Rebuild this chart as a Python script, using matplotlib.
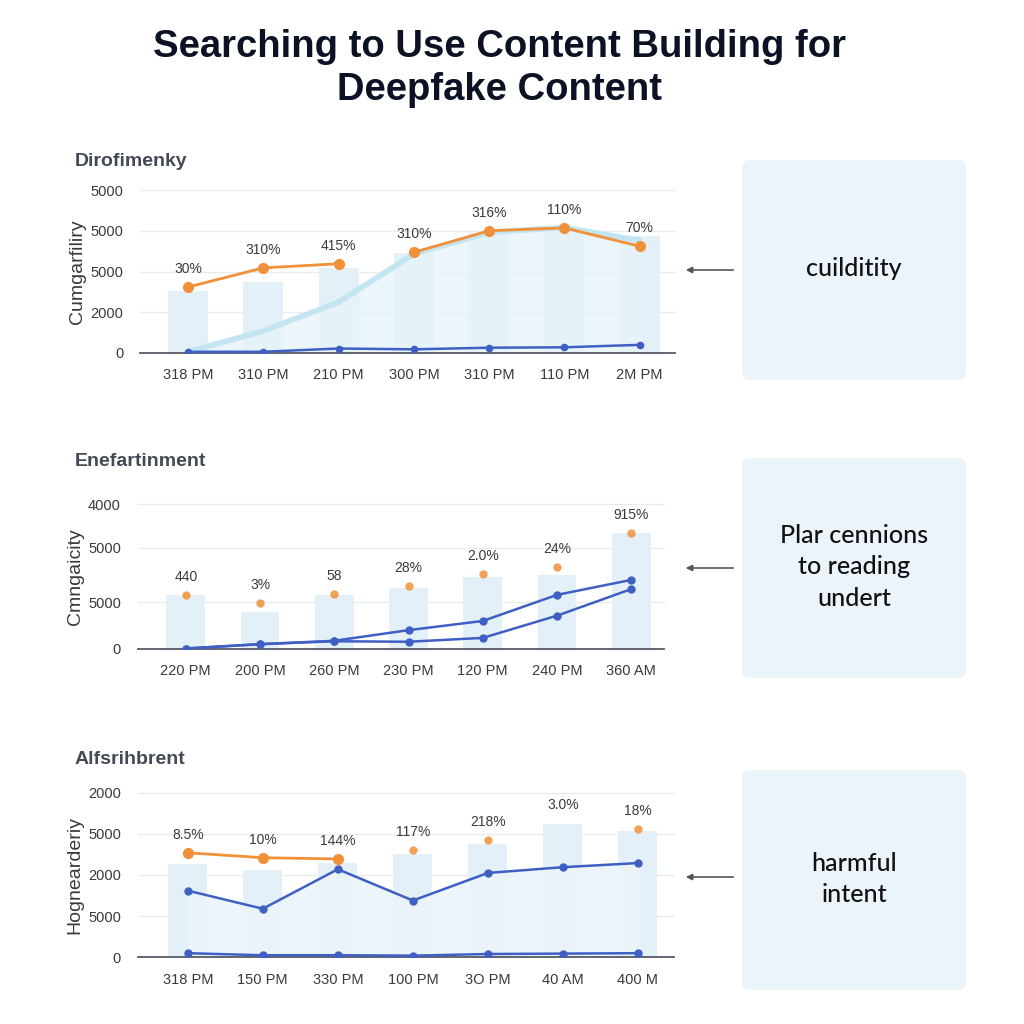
import numpy as np
import matplotlib
matplotlib.use("Agg")
from matplotlib import pyplot as plt
from matplotlib.patches import FancyBboxPatch

plt.rcParams["font.family"] = ["Liberation Sans", "DejaVu Sans"]

# ---- panel 1 : Dirofimenky ----
times1 = ["318 PM", "310 PM", "210 PM", "300 PM", "310 PM", "110 PM", "2M PM"]
bars1 = [1.52, 1.75, 2.08, 2.45, 2.95, 3.05, 2.88]
curve1 = [0.03, 0.54, 1.25, 2.43, 2.96, 3.08, 2.76]
orange1 = [1.62, 2.09, 2.19, 2.47, 3.00, 3.07, 2.62]
blue1 = [0.03, 0.03, 0.11, 0.09, 0.13, 0.14, 0.20]
pct1 = ["30%", "310%", "415%", "310%", "316%", "110%", "70%"]
yticks1 = ["0", "2000", "5000", "5000", "5000"]

# ---- panel 2 : Enefartinment ----
times2 = ["220 PM", "200 PM", "260 PM", "230 PM", "120 PM", "240 PM", "360 AM"]
bars2 = [1.11, 0.76, 1.12, 1.27, 1.48, 1.53, 2.40]
orange2 = [1.11, 0.95, 1.13, 1.30, 1.55, 1.70, 2.40]
blue2a = [0.01, 0.10, 0.17, 0.39, 0.58, 1.12, 1.43]
blue2b = [0.01, 0.10, 0.16, 0.15, 0.23, 0.69, 1.24]
pct2 = ["440", "3%", "58", "28%", "2.0%", "24%", "915%"]
yticks2 = ["0", "5000", "5000", "4000"]

# ---- panel 3 : Alfsrihbrent ----
times3 = ["318 PM", "150 PM", "330 PM", "100 PM", "3O PM", "40 AM", "400 M"]
bars3 = [2.26, 2.13, 2.30, 2.52, 2.75, 3.25, 3.07]
orange3 = [2.54, 2.42, 2.39, 2.60, 2.85, np.nan, 3.11]
blue3a = [1.62, 1.18, 2.14, 1.38, 2.05, 2.19, 2.29]
blue3b = [0.10, 0.05, 0.05, 0.04, 0.08, 0.09, 0.10]
pct3 = ["8.5%", "10%", "144%", "117%", "218%", "3.0%", "18%"]
yticks3 = ["0", "5000", "2000", "5000", "2000"]

box_texts = ["cuilditity", "Plar cennions\nto reading\nundert", "harmful\nintent"]

ORANGE = "#f0913a"
BLUE = "#3f5fc4"
BAR = "#e3f0f7"
GRID = "#e9ecef"
TXT = "#3a3a3a"

fig = plt.figure(figsize=(10.24, 10.24), dpi=100)
fig.patch.set_facecolor("white")

fig.text(0.488, 0.933, "Searching to Use Content Building for\nDeepfake Content",
         ha="center", va="center", fontsize=27.5, fontweight="bold",
         color="#0b1224", linespacing=1.25)


def setup(ax, times, yt_pos, yt_lab, ylab, title, title_y, xlim, ytop):
    ax.set_xlim(*xlim)
    ax.set_ylim(0, ytop)
    for s in ["top", "right", "left"]:
        ax.spines[s].set_visible(False)
    ax.spines["bottom"].set_color("#555a66")
    ax.spines["bottom"].set_linewidth(1.3)
    for y in yt_pos[1:]:
        ax.axhline(y, color=GRID, lw=1.0, zorder=0, clip_on=False)
    ax.set_yticks(yt_pos)
    ax.set_yticklabels(yt_lab)
    ax.set_xticks(range(len(times)))
    ax.set_xticklabels(times)
    ax.tick_params(axis="both", length=0, labelsize=10.5, labelcolor=TXT)
    ax.tick_params(axis="y", pad=12)
    ax.tick_params(axis="x", pad=11)
    ax.set_ylabel(ylab, fontsize=14, color=TXT, labelpad=3)
    ax.set_facecolor("none")
    fig.text(75 / 1024, 1 - title_y / 1024, title, fontsize=14,
             fontweight="bold", color="#444a55", ha="left", va="center")


def labels(ax, xs, ys, texts):
    for x, y, t in zip(xs, ys, texts):
        ax.annotate(t, (x, y), xytext=(0, 8), textcoords="offset points",
                    ha="center", va="bottom", fontsize=10, color=TXT)


x = np.arange(7)

# panel 1
ax1 = fig.add_axes([140 / 1024, 1 - 353 / 1024, 535 / 1024, 163 / 1024])
setup(ax1, times1, [0, 1, 2, 3, 4], yticks1, "Cumgarfiliry", "Dirofimenky", 162,
      (-0.64, 6.47), 4)
ax1.bar(x, bars1, width=0.53, color=BAR, zorder=1)
ax1.fill_between(x, curve1, color="#e6f3f9", alpha=0.8, zorder=1)
ax1.plot(x, curve1, color="#c3e5f2", lw=4, zorder=2, solid_capstyle="round")
ax1.plot(x[:3], orange1[:3], color=ORANGE, lw=2, marker="o", ms=7, zorder=4)
ax1.plot(x[3:], orange1[3:], color=ORANGE, lw=2, marker="o", ms=7, zorder=4)
ax1.plot(x, blue1, color=BLUE, lw=1.8, marker="o", ms=4.5, zorder=4)
labels(ax1, x, orange1, pct1)

# panel 2
ax2 = fig.add_axes([137.5 / 1024, 1 - 649 / 1024, 526.5 / 1024, 145 / 1024])
setup(ax2, times2, [0, 0.97, 2.09, 3], yticks2, "Cmngaicity", "Enefartinment", 461,
      (-0.65, 6.44), 3)
ax2.bar(x, bars2, width=0.52, color=BAR, zorder=1)
ax2.scatter(x, orange2, color=ORANGE, s=36, alpha=0.85, zorder=4, lw=0)
ax2.plot(x, blue2a, color=BLUE, lw=1.8, marker="o", ms=5, zorder=4)
ax2.plot(x, blue2b, color=BLUE, lw=1.8, marker="o", ms=5, zorder=4)
labels(ax2, x, orange2, pct2)

# panel 3
ax3 = fig.add_axes([137.5 / 1024, 1 - 957.3 / 1024, 536.5 / 1024, 164.6 / 1024])
setup(ax3, times3, [0, 1, 2, 3, 4], yticks3, "Hognearderiy", "Alfsrihbrent", 760,
      (-0.67, 6.48), 4)
ax3.bar(x, bars3, width=0.52, color=BAR, zorder=1)
ax3.fill_between(x, blue3a, color="#eaf4f9", alpha=0.9, zorder=1)
ax3.plot(x[:3], orange3[:3], color=ORANGE, lw=2, marker="o", ms=7, zorder=4)
ax3.scatter(x[3:], orange3[3:], color=ORANGE, s=36, alpha=0.85, zorder=4, lw=0)
ax3.plot(x, blue3a, color=BLUE, lw=1.8, marker="o", ms=5, zorder=4)
ax3.plot(x, blue3b, color=BLUE, lw=1.8, marker="o", ms=5, zorder=4)
lab3 = [o if not np.isnan(o) else b for o, b in zip(orange3, bars3)]
labels(ax3, x, lab3, pct3)

# right-hand boxes with arrows
box_y = [(160, 380), (458, 678), (770, 990)]
arrow_y = [270, 568, 877]
for (top, bot), ay, t in zip(box_y, arrow_y, box_texts):
    bx = FancyBboxPatch((742 / 1024, 1 - bot / 1024), 224 / 1024, (bot - top) / 1024,
                        boxstyle="round,pad=0,rounding_size=0.008",
                        transform=fig.transFigure, facecolor="#eaf4fa",
                        edgecolor="none")
    fig.patches.append(bx)
    fig.text(854 / 1024, 1 - ((top + bot) / 2 - 1) / 1024, t, ha="center", va="center",
             fontsize=18, family="Lato", fontweight="medium", color="#111111",
             linespacing=1.45)
    fig.add_artist(plt.Annotation("", xy=(683 / 1024, 1 - ay / 1024),
                                  xytext=(736 / 1024, 1 - ay / 1024),
                                  xycoords="figure fraction",
                                  arrowprops=dict(arrowstyle="-|>", color="#555555",
                                                  lw=1.2, mutation_scale=9)))

fig.savefig("out.png", dpi=100, facecolor="white")
